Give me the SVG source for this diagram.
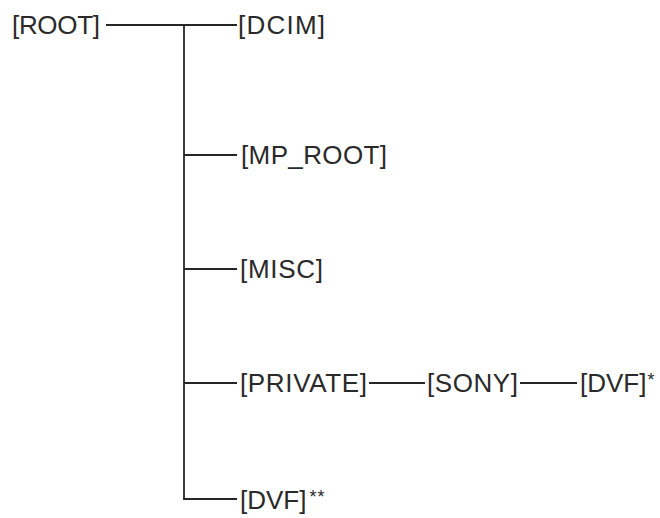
<svg xmlns="http://www.w3.org/2000/svg" width="660" height="518" viewBox="0 0 660 518">
<style>
.t{font-family:"Liberation Sans",Arial,sans-serif;font-size:26px;fill:#2a2a2a}
.s{font-size:18px;letter-spacing:1px}
.c line{stroke:#262626;stroke-width:1.8;fill:none}
</style>
<rect width="660" height="518" fill="#ffffff"/>
<g class="c" id="connectors">
<line x1="106" y1="25" x2="237" y2="25"/>
<line x1="184" y1="25" x2="184" y2="499"/>
<line x1="184" y1="155" x2="237" y2="155"/>
<line x1="184" y1="269" x2="237" y2="269"/>
<line x1="184" y1="383" x2="237" y2="383"/>
<line x1="183.1" y1="499" x2="237" y2="499"/>
<line x1="369" y1="383" x2="425" y2="383"/>
<line x1="520" y1="383" x2="577" y2="383"/>
</g>
<g id="root"><text class="t" x="12" y="34" textLength="88" lengthAdjust="spacing">[ROOT]</text></g>
<g id="dcim"><text class="t" x="238" y="34" textLength="87" lengthAdjust="spacing">[DCIM]</text></g>
<g id="mp_root"><text class="t" x="241" y="164" textLength="146" lengthAdjust="spacing">[MP_ROOT]</text></g>
<g id="misc"><text class="t" x="240" y="278" textLength="83" lengthAdjust="spacing">[MISC]</text></g>
<g id="private"><text class="t" x="240" y="392" textLength="127" lengthAdjust="spacing">[PRIVATE]</text></g>
<g id="sony"><text class="t" x="427" y="392" textLength="91" lengthAdjust="spacing">[SONY]</text></g>
<g id="dvf1"><text class="t" x="580" y="392">[DVF]<tspan class="s" dx="1" dy="-6">*</tspan></text></g>
<g id="dvf2"><text class="t" x="240" y="509">[DVF]<tspan class="s" dx="3" dy="-6">**</tspan></text></g>
</svg>
